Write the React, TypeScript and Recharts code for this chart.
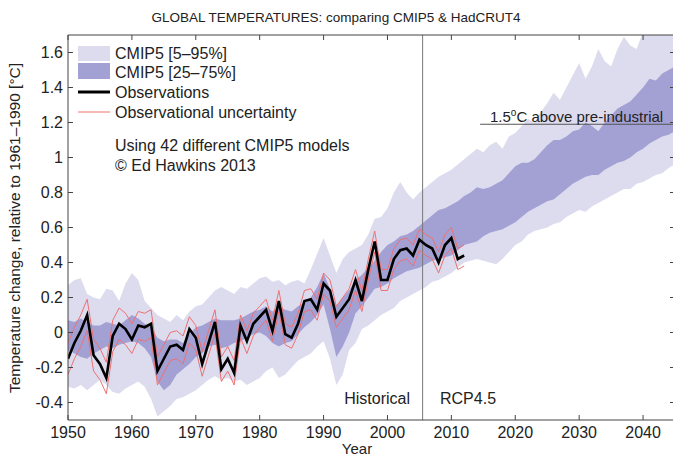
import {
  Area,
  ComposedChart,
  Line,
  ReferenceLine,
  XAxis,
  YAxis,
} from "recharts";

const years = Array.from({ length: 96 }, (_, i) => 1950 + i);

// CMIP5 5-95% range
const p5 = [
  -0.31, -0.32, -0.3, -0.33, -0.3, -0.27, -0.3, -0.34, -0.35, -0.32,
  -0.3, -0.28, -0.31, -0.38, -0.48, -0.45, -0.42, -0.38, -0.37, -0.35,
  -0.33, -0.3, -0.27, -0.25, -0.27, -0.26, -0.28, -0.27, -0.3, -0.28,
  -0.26, -0.22, -0.2, -0.26, -0.24, -0.2, -0.16, -0.14, -0.12, -0.08,
  -0.05, -0.15, -0.3, -0.24, -0.1, -0.06, 0.02, 0.04, 0.07, 0.1,
  0.12, 0.14, 0.18, 0.2, 0.22, 0.24, 0.26, 0.29, 0.3, 0.32,
  0.34, 0.37, 0.4, 0.41, 0.42, 0.41, 0.4, 0.39, 0.42, 0.46,
  0.5, 0.52, 0.56, 0.58, 0.59, 0.6, 0.62, 0.63, 0.66, 0.68,
  0.7, 0.69, 0.72, 0.74, 0.76, 0.78, 0.8, 0.82, 0.82, 0.85,
  0.86, 0.88, 0.9, 0.91, 0.94, 0.96,
];
const p95 = [
  0.27, 0.3, 0.31, 0.22, 0.2, 0.19, 0.25, 0.24, 0.18, 0.28,
  0.34, 0.3, 0.18, 0.14, 0.1, 0.08, 0.06, 0.1, 0.07, 0.12,
  0.15, 0.16, 0.2, 0.24, 0.26, 0.24, 0.22, 0.26, 0.25, 0.28,
  0.31, 0.32, 0.29, 0.3, 0.27, 0.29, 0.3, 0.28, 0.36, 0.45,
  0.54, 0.44, 0.34, 0.42, 0.46, 0.48, 0.5, 0.56, 0.65, 0.66,
  0.71, 0.8, 0.86, 0.8, 0.76, 0.8, 0.83, 0.86, 0.89, 0.91,
  0.93, 0.96, 0.99, 1.02, 1.05, 1.03, 1.07, 1.09, 1.05, 1.12,
  1.14, 1.18, 1.22, 1.2, 1.26, 1.31, 1.37, 1.33, 1.4, 1.47,
  1.54, 1.45, 1.52, 1.62, 1.55, 1.52, 1.62, 1.69, 1.64, 1.62,
  1.72, 1.75, 1.72, 1.78, 1.8, 1.82,
];
// CMIP5 25-75% range
const p25 = [
  -0.1, -0.12, -0.14, -0.15, -0.12, -0.1, -0.08, -0.09, -0.07, -0.06,
  -0.05, -0.06, -0.09, -0.14, -0.28, -0.33, -0.3, -0.24, -0.21, -0.18,
  -0.14, -0.12, -0.08, -0.07, -0.09, -0.08, -0.06, -0.05, -0.03, -0.01,
  0.0, -0.02, -0.06, -0.08, -0.06, -0.05, -0.01, 0.03, 0.06, 0.1,
  0.16, 0.02, -0.14, -0.08, 0.0, 0.11, 0.15, 0.2, 0.25, 0.26,
  0.28, 0.31, 0.33, 0.35, 0.36, 0.37, 0.39, 0.41, 0.42, 0.43,
  0.44, 0.47, 0.5, 0.51, 0.52, 0.55, 0.57, 0.58, 0.59, 0.61,
  0.63, 0.66, 0.69, 0.71, 0.73, 0.75, 0.76, 0.79, 0.82, 0.85,
  0.87, 0.89, 0.9, 0.9, 0.93, 0.95, 0.97, 0.98, 1.0, 1.03,
  1.05, 1.08, 1.1, 1.12, 1.13, 1.15,
];
const p75 = [
  0.07, 0.06, 0.08, 0.06, 0.04, 0.04, 0.06, 0.05, 0.04, 0.07,
  0.1, 0.08, 0.05, 0.03, -0.03, -0.05, -0.04, -0.04, -0.06, -0.01,
  0.03, 0.04, 0.06, 0.08, 0.07, 0.07, 0.07, 0.08, 0.1, 0.12,
  0.13, 0.15, 0.12, 0.15, 0.13, 0.12, 0.15, 0.17, 0.2, 0.26,
  0.34, 0.25, 0.15, 0.2, 0.24, 0.3, 0.33, 0.37, 0.41, 0.46,
  0.5, 0.52, 0.55, 0.56, 0.58, 0.61, 0.64, 0.67, 0.7, 0.71,
  0.73, 0.75, 0.78, 0.8, 0.83, 0.82, 0.83, 0.85, 0.87, 0.91,
  0.95, 0.97, 0.97, 0.99, 1.03, 1.07, 1.1, 1.1, 1.12, 1.15,
  1.16, 1.2, 1.18, 1.15, 1.2, 1.24, 1.28, 1.3, 1.32, 1.36,
  1.4, 1.45, 1.44, 1.48, 1.5, 1.52,
];

// HadCRUT4, 1950-2012
const observations = [
  -0.15, -0.06, 0.01, 0.1, -0.13, -0.18, -0.26, -0.02, 0.05, 0.02,
  -0.04, 0.04, 0.03, 0.05, -0.22, -0.15, -0.08, -0.07, -0.1, 0.02,
  -0.03, -0.18, -0.06, 0.06, -0.21, -0.15, -0.23, 0.04, -0.05, 0.05,
  0.09, 0.13, 0.01, 0.18, -0.01, -0.03, 0.05, 0.18, 0.19, 0.13,
  0.28, 0.24, 0.09, 0.14, 0.19, 0.3, 0.18, 0.36, 0.52, 0.3,
  0.3, 0.42, 0.47, 0.48, 0.44, 0.53, 0.5, 0.48, 0.4, 0.5,
  0.54, 0.42, 0.44,
];
const obsHigh = [
  -0.06, 0.03, 0.1, 0.19, -0.04, -0.09, -0.17, 0.07, 0.14, 0.11,
  0.05, 0.12, 0.11, 0.13, -0.14, -0.07, 0.0, 0.01, -0.02, 0.09,
  0.04, -0.11, 0.01, 0.13, -0.14, -0.08, -0.16, 0.1, 0.01, 0.11,
  0.15, 0.19, 0.07, 0.24, 0.05, 0.03, 0.11, 0.24, 0.25, 0.19,
  0.34, 0.3, 0.15, 0.2, 0.25, 0.36, 0.24, 0.42, 0.58, 0.36,
  0.36, 0.48, 0.53, 0.54, 0.5, 0.59, 0.56, 0.54, 0.46, 0.56,
  0.6, 0.48, 0.5,
];
const obsLow = [
  -0.24, -0.15, -0.08, 0.01, -0.22, -0.27, -0.35, -0.11, -0.04, -0.07,
  -0.12, -0.04, -0.05, -0.03, -0.3, -0.23, -0.16, -0.15, -0.18, -0.06,
  -0.1, -0.25, -0.13, -0.01, -0.28, -0.22, -0.3, -0.03, -0.12, -0.02,
  0.03, 0.07, -0.05, 0.12, -0.07, -0.09, -0.01, 0.12, 0.13, 0.07,
  0.22, 0.18, 0.03, 0.08, 0.13, 0.24, 0.12, 0.3, 0.46, 0.24,
  0.24, 0.36, 0.41, 0.42, 0.38, 0.47, 0.44, 0.42, 0.34, 0.44,
  0.48, 0.36, 0.38,
];

const xTicks = [1950, 1960, 1970, 1980, 1990, 2000, 2010, 2020, 2030, 2040];
const yTicks = [-0.4, -0.2, 0, 0.2, 0.4, 0.6, 0.8, 1, 1.2, 1.4, 1.6];
const splitYear = 2005.5;
const threshold = 1.19; // 1.5C above pre-industrial, relative to 1961-1990

const data = years.map((year, i) => ({
  year,
  wide: [p5[i], p95[i]],
  narrow: [p25[i], p75[i]],
  obs: observations[i],
  obsHigh: obsHigh[i],
  obsLow: obsLow[i],
}));

const FONT = "'Liberation Sans', Arial, Helvetica, sans-serif";
const LIGHT = "#dddcef";
const DARK = "#a3a1d4";
const RED = "#f07070";
const tickStyle = { fontSize: 16, fill: "#222", fontFamily: FONT };

export default function App() {
  return (
    <div
      style={{
        position: "absolute",
        left: 0,
        top: 0,
        width: 673,
        height: 457,
        overflow: "hidden",
        background: "#fff",
      }}
    >
      <ComposedChart
        width={676}
        height={457}
        data={data}
        margin={{ top: 34, right: 0, left: 0, bottom: 0 }}
      >
        <XAxis
          xAxisId="b"
          dataKey="year"
          type="number"
          domain={[1950, 2045]}
          ticks={xTicks}
          height={37}
          tickSize={-5}
          tickMargin={12}
          tick={tickStyle}
          stroke="#444"
          allowDataOverflow
        />
        <XAxis
          xAxisId="t"
          orientation="top"
          dataKey="year"
          type="number"
          domain={[1950, 2045]}
          ticks={xTicks}
          height={1}
          tickSize={-5}
          tickFormatter={() => ""}
          stroke="#444"
          allowDataOverflow
        />
        <YAxis
          yAxisId="l"
          type="number"
          domain={[-0.5, 1.7]}
          ticks={yTicks}
          width={68}
          tickSize={-5}
          tickMargin={10}
          tick={tickStyle}
          tickFormatter={(v: number) => String(Number(v.toFixed(1)))}
          stroke="#444"
          allowDataOverflow
        />
        <YAxis
          yAxisId="r"
          orientation="right"
          type="number"
          domain={[-0.5, 1.7]}
          ticks={yTicks}
          width={1}
          tickSize={-5}
          tickFormatter={() => ""}
          stroke="#444"
          allowDataOverflow
        />
        <Area
          xAxisId="b"
          yAxisId="l"
          type="linear"
          dataKey="wide"
          fill={LIGHT}
          fillOpacity={1}
          stroke="none"
          isAnimationActive={false}
        />
        <Area
          xAxisId="b"
          yAxisId="l"
          type="linear"
          dataKey="narrow"
          fill={DARK}
          fillOpacity={1}
          stroke="none"
          isAnimationActive={false}
        />
        <ReferenceLine
          xAxisId="b"
          yAxisId="l"
          x={splitYear}
          stroke="#777"
          strokeWidth={1}
        />
        <ReferenceLine
          xAxisId="b"
          yAxisId="l"
          segment={[
            { x: 2014.5, y: threshold },
            { x: 2045, y: threshold },
          ]}
          stroke="#555"
          strokeWidth={1}
        />
        <Line
          xAxisId="b"
          yAxisId="l"
          type="linear"
          dataKey="obsHigh"
          stroke={RED}
          strokeWidth={1}
          dot={false}
          isAnimationActive={false}
        />
        <Line
          xAxisId="b"
          yAxisId="l"
          type="linear"
          dataKey="obsLow"
          stroke={RED}
          strokeWidth={1}
          dot={false}
          isAnimationActive={false}
        />
        <Line
          xAxisId="b"
          yAxisId="l"
          type="linear"
          dataKey="obs"
          stroke="#000"
          strokeWidth={2.6}
          dot={false}
          isAnimationActive={false}
        />
      </ComposedChart>
      <svg
        width={673}
        height={457}
        style={{ position: "absolute", left: 0, top: 0, pointerEvents: "none" }}
        fontFamily={FONT}
        fill="#222"
      >
        <text x={336} y={22} fontSize={13.5} textAnchor="middle">
          GLOBAL TEMPERATURES: comparing CMIP5 &amp; HadCRUT4
        </text>
        <text
          transform="translate(20,228) rotate(-90)"
          fontSize={15.5}
          textAnchor="middle"
        >
          Temperature change, relative to 1961–1990 [°C]
        </text>
        <text x={357} y={454} fontSize={15} textAnchor="middle">
          Year
        </text>
        <rect x={78} y={46} width={32} height={15} fill={LIGHT} />
        <rect x={78} y={63} width={32} height={16} fill={DARK} />
        <line x1={78} x2={110} y1={92} y2={92} stroke="#000" strokeWidth={3} />
        <line x1={78} x2={110} y1={112} y2={112} stroke={RED} strokeWidth={1} />
        <g fontSize={16}>
          <text x={115} y={58.5}>CMIP5 [5–95%]</text>
          <text x={115} y={77.5}>CMIP5 [25–75%]</text>
          <text x={115} y={97.5}>Observations</text>
          <text x={115} y={117.5}>Observational uncertainty</text>
          <text x={115} y={150.5}>Using 42 different CMIP5 models</text>
          <text x={115} y={170.5}>© Ed Hawkins 2013</text>
          <text x={410} y={404} textAnchor="end">Historical</text>
          <text x={440} y={404}>RCP4.5</text>
        </g>
        <text x={490} y={122} fontSize={15}>
          1.5<tspan fontSize={10} dy={-6}>o</tspan>
          <tspan dy={6}>C above pre-industrial</tspan>
        </text>
      </svg>
    </div>
  );
}
